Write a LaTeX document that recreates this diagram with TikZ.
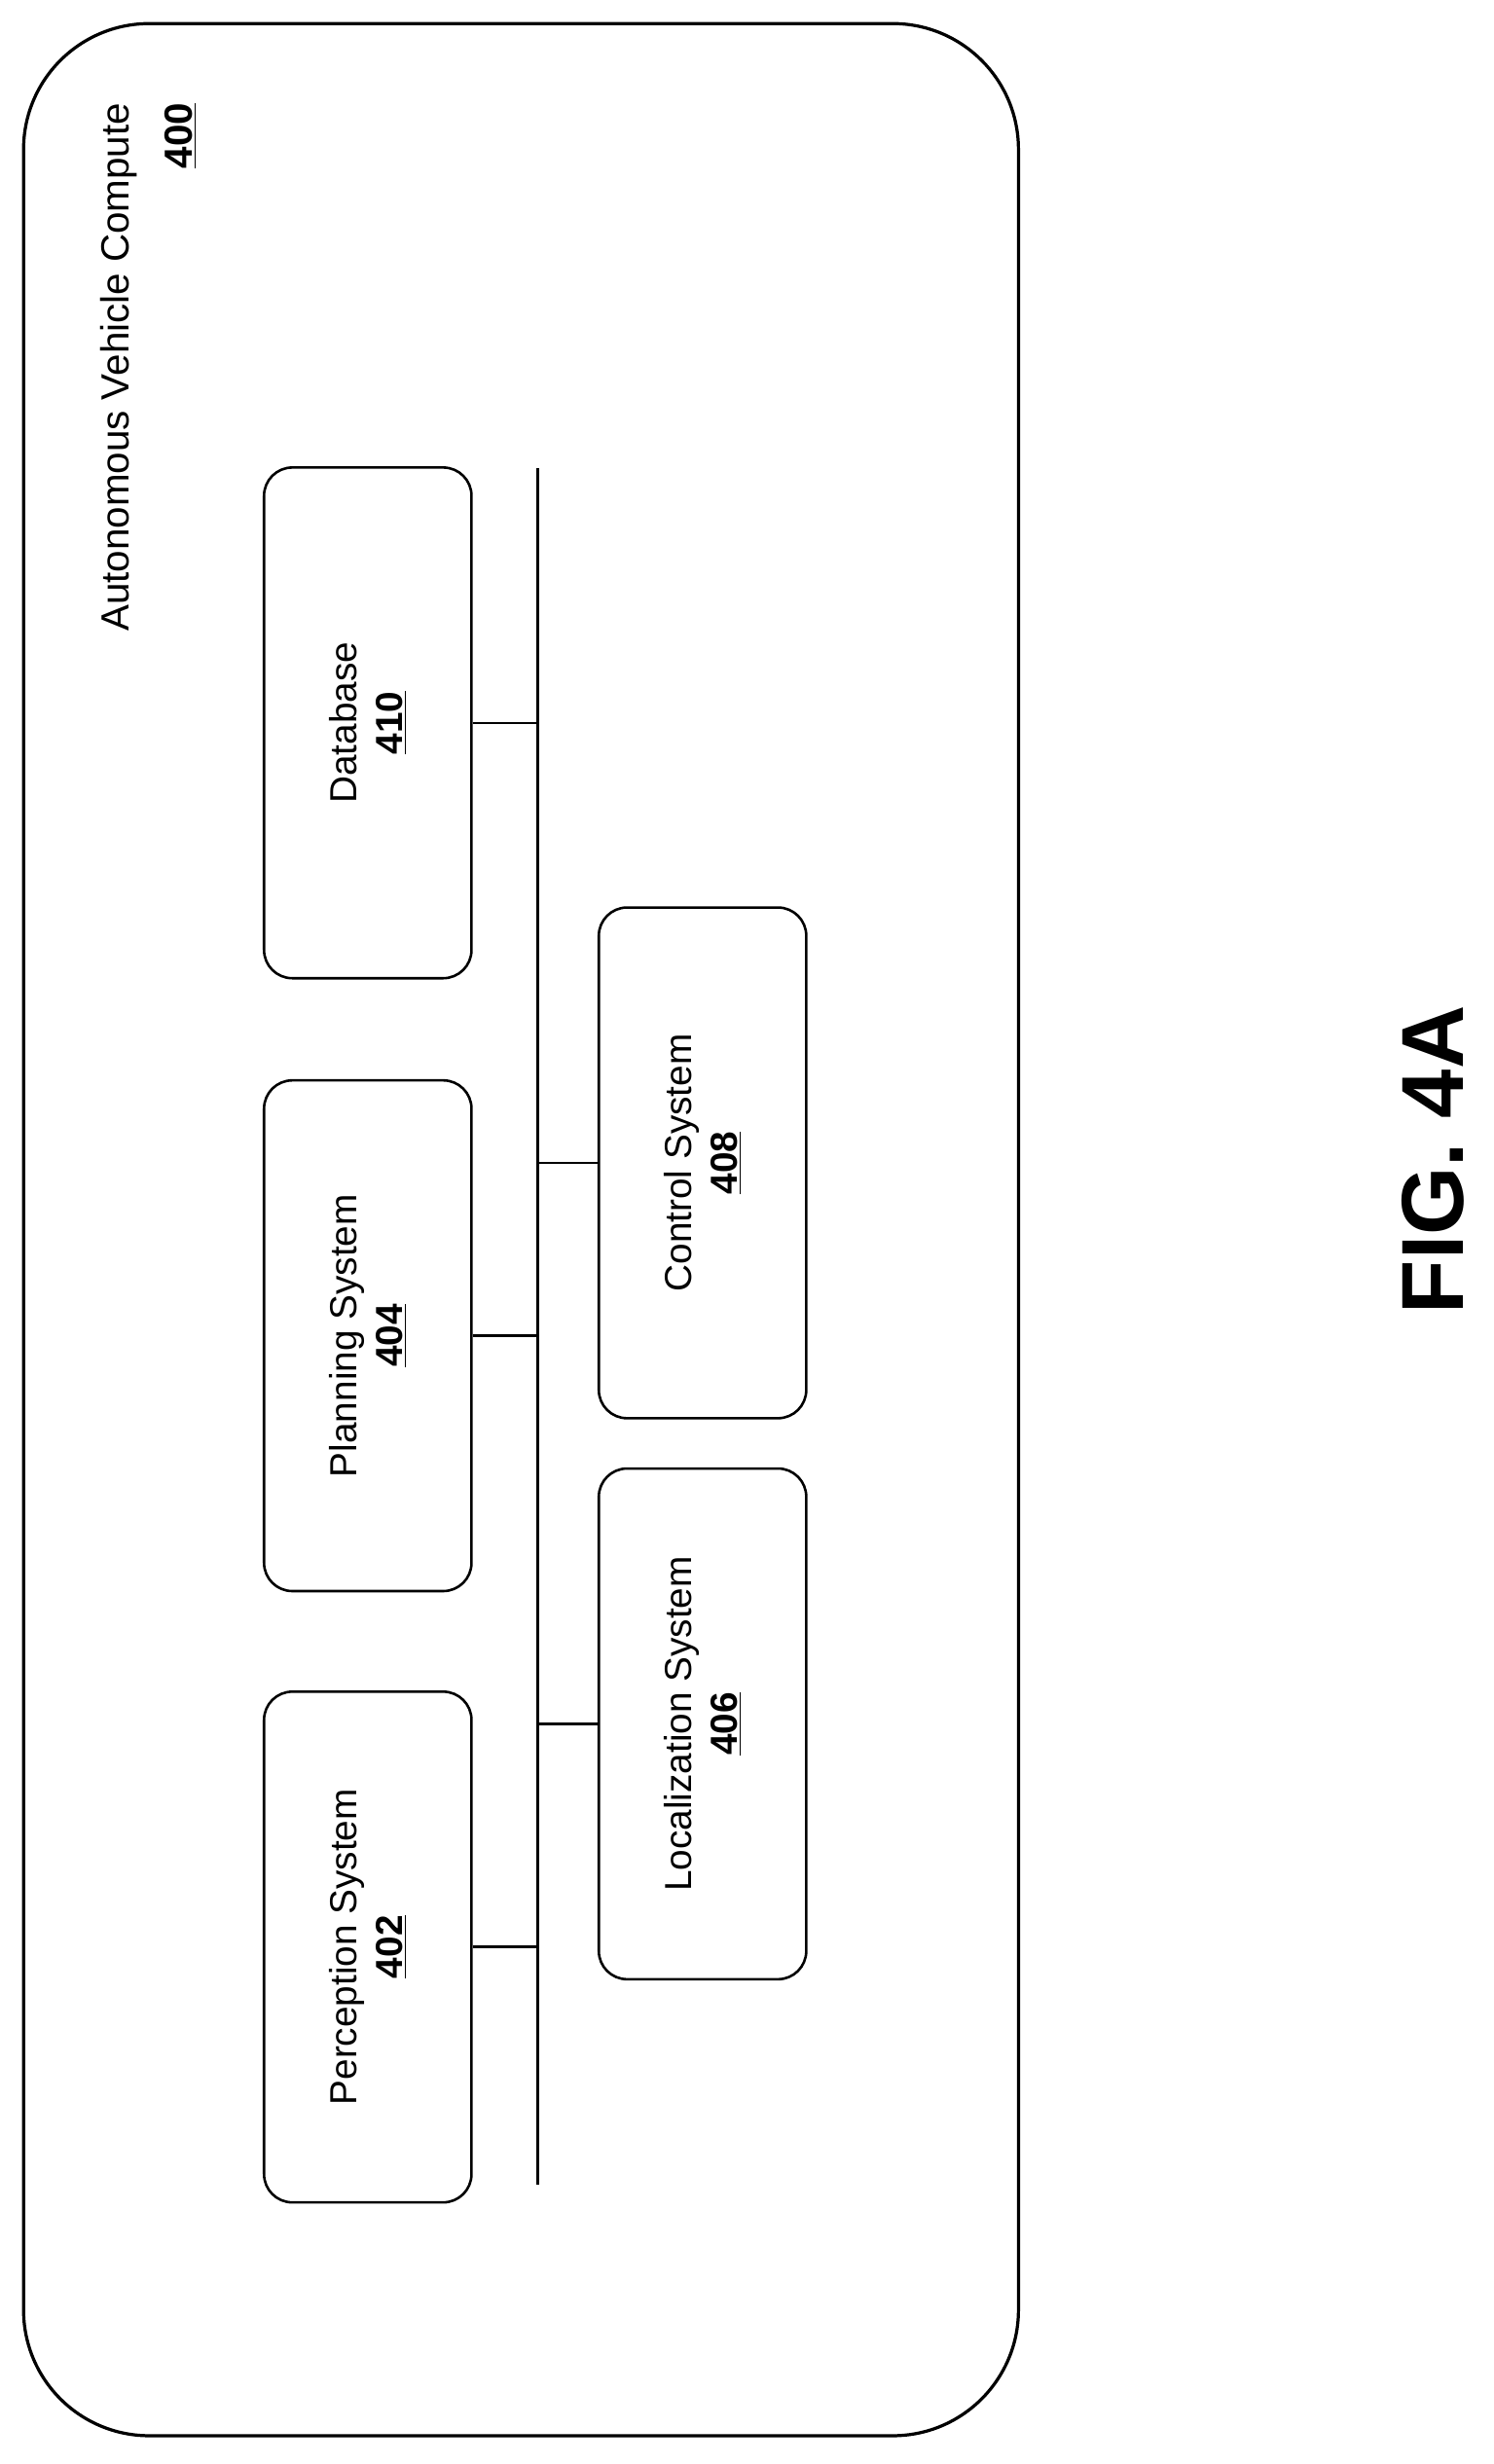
\documentclass[tikz,border=0pt]{standalone}
\usepackage{fontspec}
\setmainfont{Liberation Sans}
\usetikzlibrary{positioning}
\tikzset{
  sys/.style={draw, line width=1.6pt, rounded corners=18pt, minimum width=325pt, minimum height=132pt, rotate=90, align=center, font=\fontsize{24}{29}\selectfont},
  wire/.style={line width=1.6pt}
}
\newcommand{\refnum}[1]{\underline{\textbf{#1}}}
\begin{document}
\begin{tikzpicture}[x=1pt, y=-1pt]
\useasboundingbox (0,0) rectangle (950,1568);
\draw[line width=2pt, rounded corners=80pt] (15,15) rectangle (648,1550);
\node[rotate=90, anchor=south east, align=right, font=\fontsize{25}{40}\selectfont] (title) at (128,62) {Autonomous Vehicle Compute\\\refnum{400}};

\path (234,460) node[sys] (db) {Database\\\refnum{410}}
      (234,850) node[sys] (plan) {Planning System\\\refnum{404}}
      (234,1239) node[sys] (perc) {Perception System\\\refnum{402}}
      (447,740) node[sys] (ctrl) {Control System\\\refnum{408}}
      (447,1097) node[sys] (loc) {Localization System\\\refnum{406}};

\coordinate (bt) at (342,298);
\coordinate (bb) at (342,1390);
\draw[wire] (bt) -- (bb);
\foreach \n in {db, plan, perc} \draw[wire] (\n.south) -- (\n.south -| bt);
\foreach \n in {ctrl, loc} \draw[wire] (\n.north) -- (\n.north -| bt);

\node[rotate=90, font=\fontsize{56}{60}\selectfont\bfseries] (fig) at (912,738) {FIG. 4A};
\end{tikzpicture}
\end{document}
